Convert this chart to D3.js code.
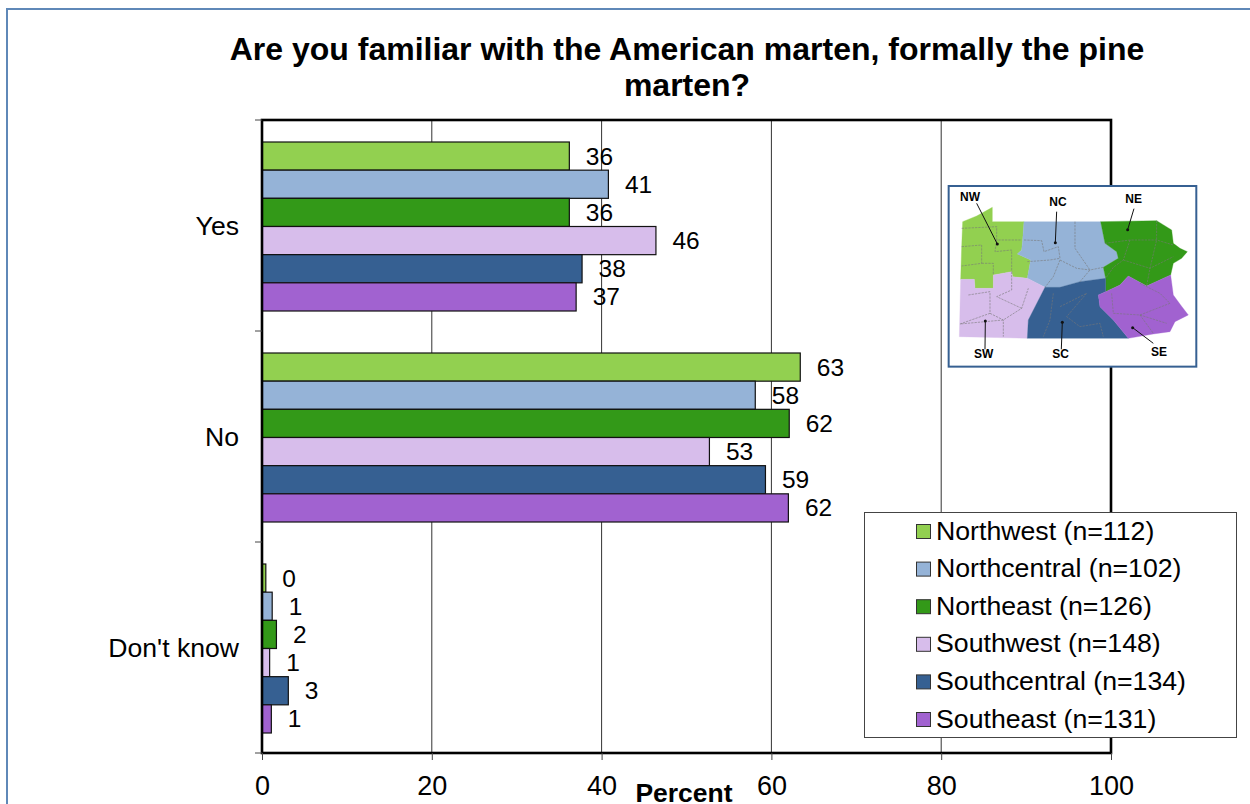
<!DOCTYPE html>
<html><head><meta charset="utf-8">
<script src="https://cdn.jsdelivr.net/npm/d3@7"></script>
<style>html,body{margin:0;padding:0;background:#fff;overflow:hidden}svg{display:block}text{font-family:"Liberation Sans",Arial,sans-serif;fill:#000}</style>
</head><body><svg id="c" width="1250" height="804"></svg>
<script>
const titleLines = ["Are you familiar with the American marten, formally the pine", "marten?"];
const categories = ["Yes", "No", "Don't know"];
const seriesNames = ["Northwest (n=112)", "Northcentral (n=102)", "Northeast (n=126)", "Southwest (n=148)", "Southcentral (n=134)", "Southeast (n=131)"];
const seriesColors = ["#92d050", "#95b3d7", "#339918", "#d7bdeb", "#366092", "#a162d0"];
const northwest = [36.2, 63.4, 0.45];
const northcentral = [40.8, 58.1, 1.2];
const northeast = [36.2, 62.1, 1.7];
const southwest = [46.4, 52.7, 0.9];
const southcentral = [37.7, 59.3, 3.1];
const southeast = [37.0, 62.0, 1.1];
const seriesValues = [northwest, northcentral, northeast, southwest, southcentral, southeast];
const xTicks = [0, 20, 40, 60, 80, 100];
const xLabel = "Percent";

// Inset map, traced in its own local coordinates
const mapRegions = [
 {c:"#92d050", p:"68,125 110,108 157,82 157,125 252,125 248,180 245,210 232,222 272,240 262,295 218,290 215,275 160,285 160,325 105,325 103,298 62,298 65,200"},
 {c:"#95b3d7", p:"252,125 482,125 495,190 530,215 535,235 490,262 497,295 420,305 360,322 315,322 262,295 272,240 232,222 245,210 248,180"},
 {c:"#339918", p:"482,125 650,122 695,150 700,190 720,205 742,215 725,235 700,250 692,285 620,318 565,288 540,315 497,335 497,295 490,262 535,235 530,215 495,190"},
 {c:"#d7bdeb", p:"62,298 103,298 105,325 160,325 160,285 215,275 218,290 262,295 315,322 265,420 262,475 58,470"},
 {c:"#366092", p:"315,322 360,322 420,305 497,295 497,335 475,345 480,380 520,420 565,475 262,475 265,420"},
 {c:"#a162d0", p:"475,345 497,335 540,315 565,288 620,318 692,285 700,345 722,375 745,405 705,425 690,455 640,462 565,475 520,420 480,380"}
];
const mapCounties = ["65,145 170,140 170,180 245,180","65,200 125,195 125,250 65,258","125,250 160,250 160,285","170,180 165,215 215,210 215,275","252,180 305,182 312,215 355,200 360,235 330,240 262,245","405,125 405,205 450,270 420,305","360,240 340,290 315,322","360,240 410,265 450,270 490,262","495,190 570,180 650,180 700,195","570,180 550,240 520,262 497,295","650,122 650,180 630,265 620,318","550,240 630,265 700,230","85,345 150,335 150,400 60,432 190,420 245,385 265,325","150,400 190,420 190,470","215,275 215,330 170,350 245,385","340,340 330,420 310,470","440,340 380,410 420,440 480,430 490,470","360,380 440,340","515,340 520,400 600,405 640,460","600,405 690,370 660,340 600,310","600,405 680,430"];
const mapLabels = [
 {t:"NW",x:90,y:62,lx1:110,ly1:70,lx2:172,ly2:192},
 {t:"NC",x:354,y:77,lx1:350,ly1:95,lx2:346,ly2:188},
 {t:"NE",x:581,y:70,lx1:582,ly1:86,lx2:563,ly2:149},
 {t:"SW",x:131,y:534,lx1:135,ly1:508,lx2:136,ly2:423},
 {t:"SC",x:362,y:534,lx1:364,ly1:508,lx2:367,ly2:427},
 {t:"SE",x:657,y:527,lx1:640,ly1:490,lx2:578,ly2:443}
];

const svg = d3.select("#c");
const W = { l: 262, r: 1111, t: 120, b: 753 };
const x = d3.scaleLinear().domain([0, 100]).range([W.l, W.r]);
const y = d3.scaleBand().domain(categories).range([W.t, W.b]);
const y1 = d3.scaleBand().domain(d3.range(seriesNames.length)).range([22, 191]);

// outer frame
svg.append("path").attr("d", "M7,804V9H1250").attr("fill", "none").attr("stroke", "#5f88b8").attr("stroke-width", 2);

// title
svg.append("g").selectAll("text").data(titleLines).join("text")
  .attr("x", 687).attr("y", (d, i) => 60 + i * 36).attr("text-anchor", "middle")
  .attr("font-size", 32).attr("font-weight", "bold").text(d => d);

// gridlines
svg.append("g").selectAll("line").data(xTicks.slice(1, -1)).join("line")
  .attr("x1", d => x(d)).attr("x2", d => x(d)).attr("y1", W.t).attr("y2", W.b)
  .attr("stroke", "#333").attr("stroke-width", 1);

// bars
const groups = svg.append("g").selectAll("g").data(categories).join("g")
  .attr("transform", d => `translate(0,${y(d)})`);
groups.each(function (cat, ci) {
  const g = d3.select(this);
  g.selectAll("rect").data(seriesValues.map(s => s[ci])).join("rect")
    .attr("x", x(0)).attr("y", (d, i) => y1(i)).attr("height", y1.bandwidth())
    .attr("width", d => x(d) - x(0))
    .attr("fill", (d, i) => seriesColors[i]).attr("stroke", "#111").attr("stroke-width", 1.2);
  g.selectAll("text").data(seriesValues.map(s => s[ci])).join("text")
    .attr("x", d => x(d) + 16.5).attr("y", (d, i) => y1(i) + y1.bandwidth() / 2 + 8.5)
    .attr("font-size", 24.5).text(d => Math.round(d));
});

// frame + axes
svg.append("rect").attr("x", W.l).attr("y", W.t).attr("width", W.r - W.l).attr("height", W.b - W.t)
  .attr("fill", "none").attr("stroke", "#000").attr("stroke-width", 2.6);

const axX = d3.axisBottom(x).tickValues(xTicks).tickSize(7).tickPadding(16).tickFormat(d3.format("d"));
const gx = svg.append("g").attr("transform", `translate(0,${W.b})`).call(axX);
gx.select(".domain").remove();
gx.selectAll("line").attr("stroke", "#444");
gx.selectAll("text").attr("font-size", 27).attr("font-family", '"Liberation Sans",Arial,sans-serif');

const yEdges = [W.t, ...categories.map(c => y(c) + y.bandwidth())];
svg.append("g").selectAll("line").data(yEdges).join("line")
  .attr("x1", W.l - 7).attr("x2", W.l).attr("y1", d => d).attr("y2", d => d).attr("stroke", "#444");
svg.append("g").selectAll("text").data(categories).join("text")
  .attr("x", 239).attr("y", d => y(d) + y.bandwidth() / 2 + 9.5).attr("text-anchor", "end")
  .attr("font-size", 26.6).text(d => d);

svg.append("text").attr("x", 684).attr("y", 802).attr("text-anchor", "middle")
  .attr("font-size", 26.5).attr("font-weight", "bold").text(xLabel);

// inset map
const map = svg.append("g").attr("transform", "translate(940,180) scale(0.3333)");
map.append("rect").attr("x", 26).attr("y", 18).attr("width", 743).attr("height", 542)
  .attr("fill", "#fff").attr("stroke", "#366092").attr("stroke-width", 6);
map.selectAll("polygon").data(mapRegions).join("polygon")
  .attr("points", d => d.p).attr("fill", d => d.c).attr("stroke", d => d.c).attr("stroke-width", 1);
map.append("g").selectAll("polyline").data(mapCounties).join("polyline")
  .attr("points", d => d).attr("fill", "none").attr("stroke", "#777").attr("stroke-width", 2.5).attr("stroke-dasharray", "7 3").attr("opacity", 0.7);
map.append("g").selectAll("line").data(mapLabels).join("line")
  .attr("x1", d => d.lx1).attr("y1", d => d.ly1).attr("x2", d => d.lx2).attr("y2", d => d.ly2)
  .attr("stroke", "#111").attr("stroke-width", 3);
map.append("g").selectAll("circle").data(mapLabels).join("circle")
  .attr("cx", d => d.lx2).attr("cy", d => d.ly2).attr("r", 4.5).attr("fill", "#111");
map.append("g").selectAll("text").data(mapLabels).join("text")
  .attr("x", d => d.x).attr("y", d => d.y).attr("text-anchor", "middle")
  .attr("font-size", 36).attr("font-weight", "bold").text(d => d.t);

// legend
svg.append("rect").attr("x", 864.5).attr("y", 512.5).attr("width", 372).attr("height", 225)
  .attr("fill", "#fff").attr("stroke", "#444").attr("stroke-width", 1);
const leg = svg.append("g").selectAll("g").data(seriesNames).join("g")
  .attr("transform", (d, i) => `translate(0,${531 + i * 37.6})`);
leg.append("rect").attr("x", 916.5).attr("y", -6.5).attr("width", 14).attr("height", 14)
  .attr("fill", (d, i) => seriesColors[i]).attr("stroke", "#333");
leg.append("text").attr("x", 936).attr("y", 8.5).attr("font-size", 26.7).text(d => d);
</script></body></html>
